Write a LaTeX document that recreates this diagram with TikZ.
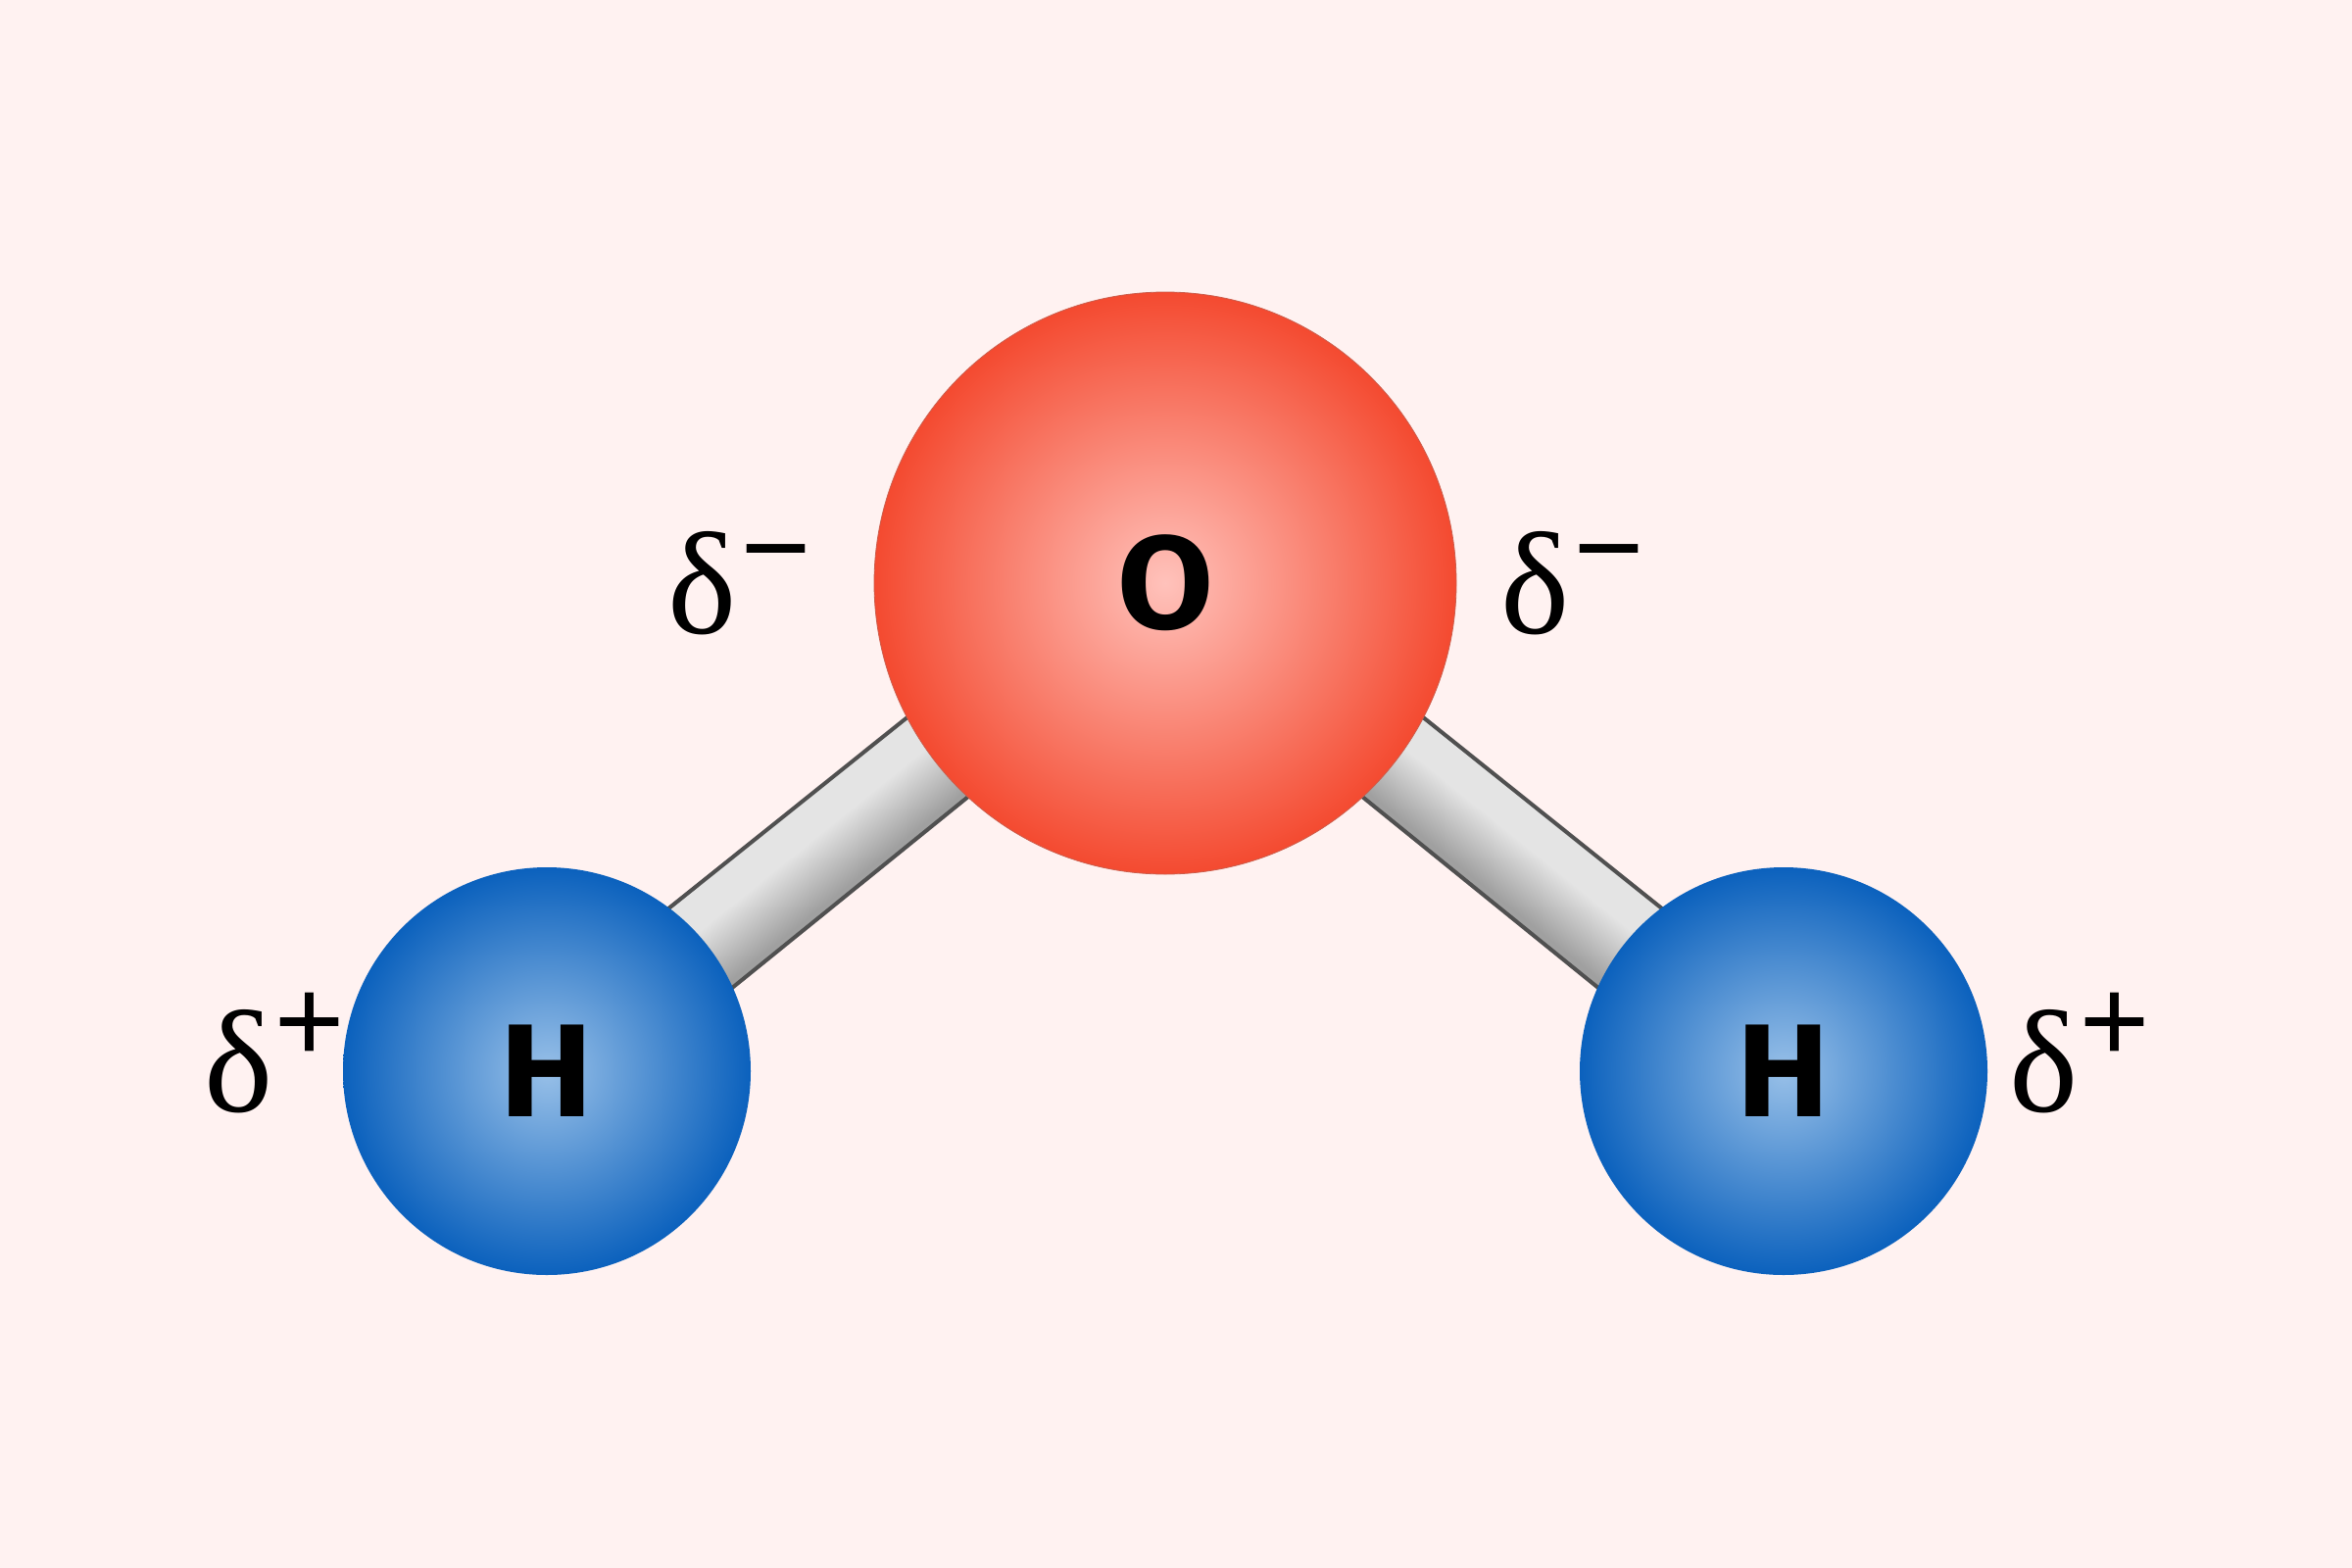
\documentclass[tikz,border=0pt]{standalone}
\usepackage{fontspec}
\setmainfont{Liberation Serif}
\newfontfamily\atomfont{Fira Sans Bold}[FakeStretch=1.05]
\usetikzlibrary{backgrounds}
\definecolor{pagebg}{HTML}{FFF2F1}
\definecolor{bondline}{HTML}{505050}
\definecolor{oc}{HTML}{FFC2BB}
\definecolor{oe}{HTML}{F44A30}
\definecolor{hc}{HTML}{98C0E8}
\definecolor{he}{HTML}{0B61BD}
\definecolor{bdark}{HTML}{A0A0A0}
\definecolor{blight}{HTML}{E4E4E4}
\pgfdeclareradialshading{oball}{\pgfpointorigin}{color(0bp)=(oc); color(25bp)=(oe); color(50bp)=(oe)}
\pgfdeclareradialshading{hball}{\pgfpointorigin}{color(0bp)=(hc); color(25bp)=(he); color(50bp)=(he)}
\pgfdeclareverticalshading{bondshade}{100bp}{color(0bp)=(bdark); color(28bp)=(bdark); color(57bp)=(blight); color(100bp)=(blight)}
\tikzset{
  atom/.style={circle,inner sep=0pt,outer sep=0pt,text=black,font=\atomfont\fontsize{135}{135}\selectfont},
  oxygen/.style={atom,minimum size=594pt,shading=oball,draw=oe!65!gray,line width=0.8pt},
  hydrogen/.style={atom,minimum size=416pt,shading=hball},
  charge/.style={inner sep=0pt,outer sep=0pt,anchor=base west,font=\fontsize{149}{149}\selectfont},
  bondedge/.style={draw=bondline,line width=4pt,line cap=butt},
  bondfill/.style={shading=bondshade}
}
\begin{document}
\begin{tikzpicture}[x=1pt,y=-1pt]
\useasboundingbox (0,0) rectangle (2400,1600);
\node[oxygen] (O) at (1189,595) {O};
\node[hydrogen] (HL) at (558,1093) {H};
\node[hydrogen] (HR) at (1820,1093) {H};
\coordinate (LT1) at (937,723);
\coordinate (LT2) at (671,936);
\coordinate (LB1) at (999,804);
\coordinate (LB2) at (736,1017);
\coordinate (RT1) at (1441,723);
\coordinate (RT2) at (1707,936);
\coordinate (RB1) at (1379,804);
\coordinate (RB2) at (1642,1017);
\begin{pgfonlayer}{background}
  \fill[pagebg] (0,0) rectangle (2400,1600);
  \shade[bondfill,transform canvas={shift={(835,870)},rotate=38.9}] (-170,-51) rectangle (170,51);
  \shade[bondfill,transform canvas={shift={(1543,870)},rotate=-38.9}] (-170,-51) rectangle (170,51);
  \draw[bondedge] (LT1) -- (LT2);
  \draw[bondedge] (LB1) -- (LB2);
  \draw[bondedge] (RT1) -- (RT2);
  \draw[bondedge] (RB1) -- (RB2);
\end{pgfonlayer}
\node[charge] (c1) at (681,646) {δ\hspace{4pt}\raisebox{43.5pt}{\fontsize{128}{128}\selectfont\bfseries −}};
\node[charge] (c2) at (1531,646) {δ\hspace{4pt}\raisebox{43.5pt}{\fontsize{128}{128}\selectfont\bfseries −}};
\node[charge] (c3) at (208,1134) {δ\hspace{1pt}\raisebox{49pt}{\fontsize{128}{128}\selectfont\bfseries +}};
\node[charge] (c4) at (2050,1134) {δ\hspace{1pt}\raisebox{49pt}{\fontsize{128}{128}\selectfont\bfseries +}};
\end{tikzpicture}
\end{document}
